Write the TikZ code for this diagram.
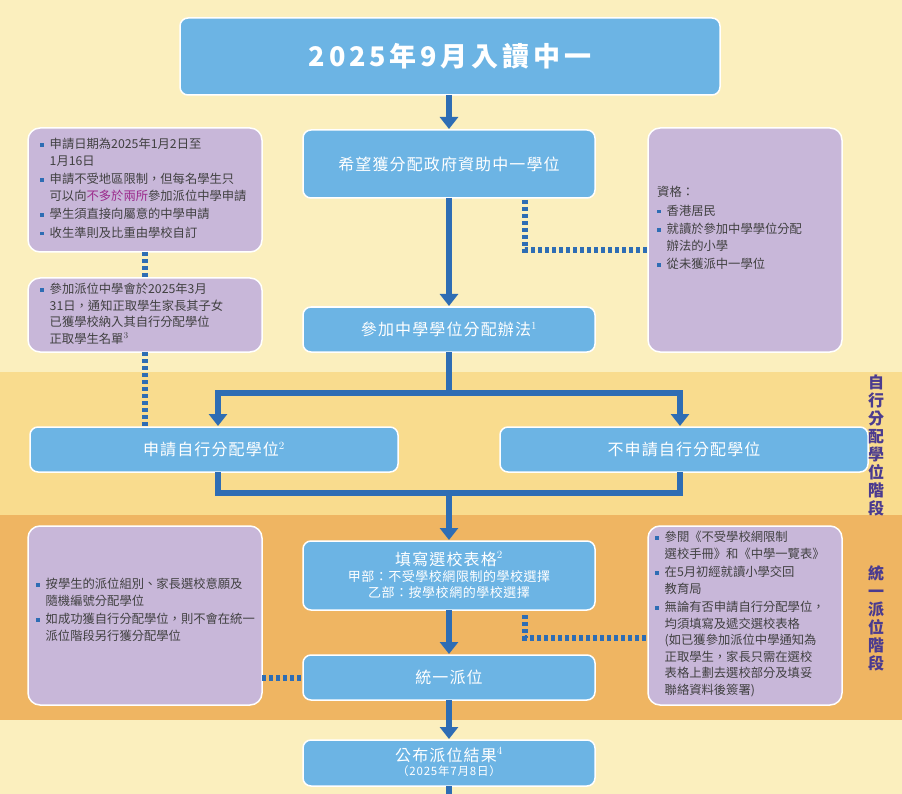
\documentclass[tikz,border=0pt]{standalone}
\usepackage{fontspec}
\setmainfont{Noto Sans CJK TC}
\usetikzlibrary{arrows.meta,calc}
\definecolor{bgpale}{HTML}{FBEFBE}
\definecolor{bgmid}{HTML}{F9DC8E}
\definecolor{bgdeep}{HTML}{EFB562}
\definecolor{boxblue}{HTML}{6CB4E4}
\definecolor{lineblue}{HTML}{2E6DB4}
\definecolor{boxpurple}{HTML}{C8B7D9}
\definecolor{stagepurple}{HTML}{4B3B8F}
\definecolor{hilite}{HTML}{9B2A8C}
\tikzset{
  stepbox/.style={draw=white,line width=1.5pt,fill=boxblue,rounded corners=8pt,text=white},
  notebox/.style={draw=white,line width=1.5pt,fill=boxpurple,rounded corners=12pt},
  flow/.style={lineblue,line width=6pt},
  flowarrow/.style={flow,-{Triangle[width=18pt,length=12pt]}},
  dotlink/.style={lineblue,line width=6pt,dash pattern=on 4pt off 3pt},
  bullet/.style={anchor=north west,align=left,font=\fontsize{12.3}{16.5}\selectfont,text=black!75,inner sep=0pt}
}
\newcommand{\bl}{\textcolor{lineblue}{\rule[0.3ex]{3.5pt}{3.5pt}}\hspace{6pt}}
\newcommand{\ind}{\hspace{9.5pt}}
\begin{document}
\begin{tikzpicture}[x=1pt,y=-1pt]
    \useasboundingbox (0,0) rectangle (902,794);
    % background bands
    \fill[bgpale] (0,0) rectangle (902,372);
    \fill[bgmid] (0,372) rectangle (902,515);
    \fill[bgdeep] (0,515) rectangle (902,720);
    \fill[bgpale] (0,720) rectangle (902,794);

    % main flow
    \draw[stepbox] (180,18) rectangle (720,95) node[midway,font=\fontsize{27}{30}\bfseries\addfontfeatures{LetterSpace=14}\selectfont] (title) {2025年9月入讀中一};
    \draw[stepbox] (303,130) rectangle (595,198) node[midway,font=\fontsize{16}{19}\addfontfeatures{LetterSpace=7}\selectfont] (wish) {希望獲分配政府資助中一學位};
    \draw[stepbox] (303,307) rectangle (595,352) node[midway,font=\fontsize{16}{19}\addfontfeatures{LetterSpace=7}\selectfont] (join) {參加中學學位分配辦法$^{1}$};
    \draw[stepbox] (30,427) rectangle (398,472) node[midway,font=\fontsize{16}{19}\addfontfeatures{LetterSpace=7}\selectfont] (dsa) {申請自行分配學位$^{2}$};
    \draw[stepbox] (500,427) rectangle (868,472) node[midway,font=\fontsize{16}{19}\addfontfeatures{LetterSpace=7}\selectfont] (nodsa) {不申請自行分配學位};
    \draw[stepbox] (303,541) rectangle (595,610);
    \node[text=white,align=center,font=\fontsize{13}{16}\addfontfeatures{LetterSpace=4}\selectfont] (form) at (449,575)
        {{\fontsize{16}{19}\addfontfeatures{LetterSpace=7}\selectfont 填寫選校表格$^{2}$}\\甲部：不受學校網限制的學校選擇\\乙部：按學校網的學校選擇};
    \draw[stepbox] (303,655) rectangle (595,700) node[midway,font=\fontsize{16}{19}\addfontfeatures{LetterSpace=7}\selectfont] (cpa) {統一派位};
    \draw[stepbox] (303,740) rectangle (595,786);
    \node[text=white,align=center,font=\fontsize{16}{17}\addfontfeatures{LetterSpace=7}\selectfont] (result) at (449,762)
        {公布派位結果$^{4}$\\[-3pt]{\fontsize{11.5}{12}\selectfont（2025年7月8日）}};

    % arrows
    \draw[flowarrow] (449,95) -- (449,129);
    \draw[flowarrow] (449,198) -- (449,306);
    \draw[flow] (449,352) -- (449,393);
    \draw[flow] (218,393) -- (680,393);
    \draw[flowarrow] (218,390) -- (218,426);
    \draw[flowarrow] (680,390) -- (680,426);
    \draw[flow] (218,472) -- (218,493) -- (680,493) -- (680,472);
    \draw[flowarrow] (449,490) -- (449,540);
    \draw[flowarrow] (449,610) -- (449,654);
    \draw[flowarrow] (449,700) -- (449,739);
    \draw[flow] (449,786) -- (449,794);

    % notes
    \draw[notebox] (28,128) rectangle (262,252);
    \node[bullet] (note1) at (40,138) {\bl 申請日期為2025年1月2日至\\\ind 1月16日\\[2pt]
        \bl 申請不受地區限制，但每名學生只\\\ind 可以向\textcolor{hilite}{不多於兩所}參加派位中學申請\\[2pt]
        \bl 學生須直接向屬意的中學申請\\[2pt]
        \bl 收生準則及比重由學校自訂};
    \draw[notebox] (28,278) rectangle (262,352);
    \node[bullet] (note2) at (40,283) {\bl 參加派位中學會於2025年3月\\\ind 31日，通知正取學生家長其子女\\\ind 已獲學校納入其自行分配學位\\\ind 正取學生名單$^{3}$};
    \draw[notebox] (648,128) rectangle (842,352);
    \node[bullet] (note3) at (657,186) {資格：\\[2pt]
        \bl 香港居民\\[2pt]
        \bl 就讀於參加中學學位分配\\\ind 辦法的小學\\[2pt]
        \bl 從未獲派中一學位};
    \draw[notebox] (28,526) rectangle (262,705);
    \node[bullet] (note4) at (36,578) {\bl 按學生的派位組別、家長選校意願及\\\ind 隨機編號分配學位\\[2pt]
        \bl 如成功獲自行分配學位，則不會在統一\\\ind 派位階段另行獲分配學位};
    \draw[notebox] (648,526) rectangle (842,705);
    \node[bullet] (note5) at (655,531) {\bl 參閱《不受學校網限制\\\ind 選校手冊》和《中學一覽表》\\[2pt]
        \bl 在5月初經就讀小學交回\\\ind 教育局\\[2pt]
        \bl 無論有否申請自行分配學位，\\\ind 均須填寫及遞交選校表格\\\ind (如已獲參加派位中學通知為\\\ind 正取學生，家長只需在選校\\\ind 表格上劃去選校部分及填妥\\\ind 聯絡資料後簽署)};

    % dotted links
    \draw[dotlink] (145,252) -- (145,278);
    \draw[dotlink] (145,352) -- (145,427);
    \draw[dotlink] (525,200) -- (525,250) -- (648,250);
    \draw[dotlink] (525,615) -- (525,638) -- (648,638);
    \draw[dotlink] (262,678) -- (303,678);

    % stage labels
    \node[text=stagepurple,font=\fontsize{16}{18}\bfseries\selectfont,align=center] (stage1) at (876,445) {自\\行\\分\\配\\學\\位\\階\\段};
    \node[text=stagepurple,font=\fontsize{16}{18}\bfseries\selectfont,align=center] (stage2) at (876,618) {統\\一\\派\\位\\階\\段};
\end{tikzpicture}
\end{document}
